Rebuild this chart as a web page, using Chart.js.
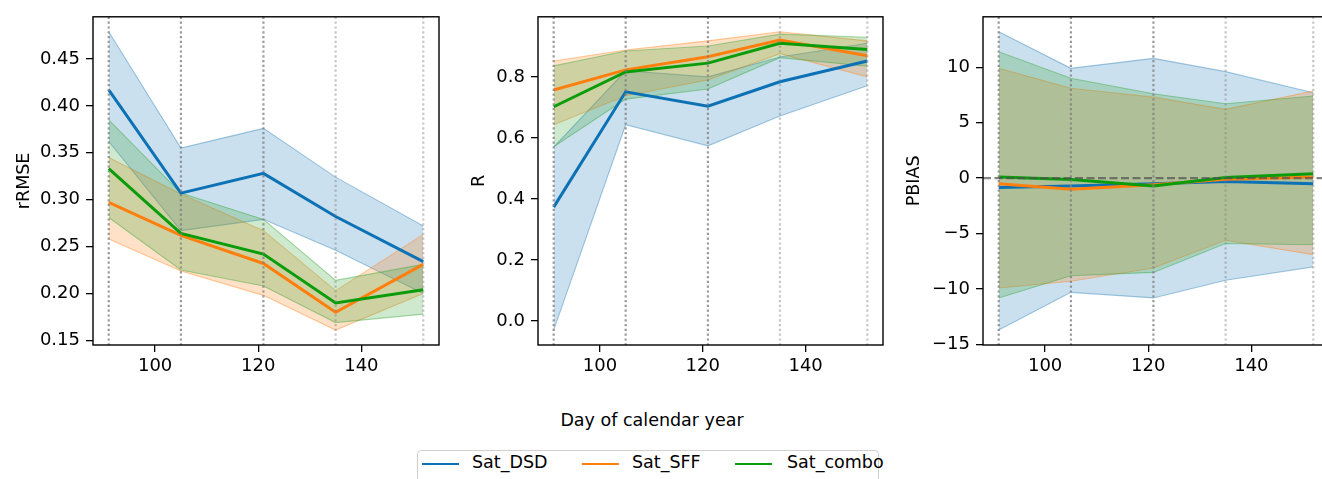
<!DOCTYPE html>
<html>
<head>
<meta charset="utf-8">
<script src="https://cdn.jsdelivr.net/npm/chart.js@4.4.0/dist/chart.umd.min.js"></script>
<style>
  html, body { margin: 0; padding: 0; background: #fff; }
  body { width: 1322px; height: 479px; overflow: hidden; position: relative; font-family: 'DejaVu Sans', sans-serif; }
  canvas { position: absolute; top: 0; }
  #xtitle { position: absolute; left: 452px; width: 400px; top: 410px; text-align: center; font-size: 17.5px; }
  #legend { position: absolute; left: 417px; top: 450px; width: 462px; height: 40px; border: 1px solid #cfcfcf; border-radius: 4px; box-sizing: border-box; }
  .sw { position: absolute; top: 12px; width: 37px; height: 0; border-top: 2.8px solid; }
  .lab { position: absolute; top: 1px; font-size: 17.5px; }
</style>
</head>
<body>
<canvas id="rmseChart" width="460" height="400" style="left:0px"></canvas>
<canvas id="rChart" width="450" height="400" style="left:450px"></canvas>
<canvas id="pbiasChart" width="440" height="400" style="left:900px"></canvas>
<div id="xtitle">Day of calendar year</div>
<div id="legend">
  <div class="sw" style="left:4px;border-color:#0c72b5"></div><div class="lab" style="left:54px">Sat_DSD</div>
  <div class="sw" style="left:164px;border-color:#ff7f0e"></div><div class="lab" style="left:214px">Sat_SFF</div>
  <div class="sw" style="left:317px;border-color:#0b9c0b"></div><div class="lab" style="left:369px">Sat_combo</div>
</div>
<script>
// Day of year for each evaluation date
const days = [91, 105, 121, 135, 152];
const xTicks = [100, 120, 140];

// rRMSE panel
const rmseDsd = [0.417, 0.307, 0.328, 0.282, 0.234];
const rmseDsdLow = [0.362, 0.267, 0.279, 0.246, 0.200];
const rmseDsdHigh = [0.479, 0.355, 0.376, 0.324, 0.272];
const rmseSff = [0.297, 0.262, 0.232, 0.180, 0.231];
const rmseSffLow = [0.258, 0.224, 0.198, 0.161, 0.200];
const rmseSffHigh = [0.345, 0.306, 0.267, 0.203, 0.263];
const rmseCombo = [0.333, 0.264, 0.242, 0.190, 0.204];
const rmseComboLow = [0.281, 0.225, 0.208, 0.169, 0.178];
const rmseComboHigh = [0.385, 0.307, 0.279, 0.214, 0.231];
const rmseTicks = [0.15, 0.20, 0.25, 0.30, 0.35, 0.40, 0.45];

// R panel
const rDsd = [0.373, 0.751, 0.704, 0.784, 0.852];
const rDsdLow = [-0.030, 0.643, 0.574, 0.672, 0.771];
const rDsdHigh = [0.570, 0.820, 0.800, 0.865, 0.910];
const rSff = [0.757, 0.823, 0.866, 0.921, 0.869];
const rSffLow = [0.643, 0.738, 0.790, 0.876, 0.800];
const rSffHigh = [0.852, 0.888, 0.918, 0.948, 0.918];
const rCombo = [0.702, 0.816, 0.845, 0.910, 0.890];
const rComboLow = [0.571, 0.727, 0.760, 0.863, 0.835];
const rComboHigh = [0.836, 0.885, 0.901, 0.940, 0.930];
const rTicks = [0.0, 0.2, 0.4, 0.6, 0.8];

// PBIAS panel
const pbDsd = [-0.85, -0.7, -0.5, -0.3, -0.5];
const pbDsdLow = [-13.7, -10.3, -10.8, -9.2, -8.0];
const pbDsdHigh = [13.2, 9.9, 10.8, 9.6, 7.7];
const pbSff = [-0.5, -1.0, -0.6, -0.1, 0.1];
const pbSffLow = [-9.9, -9.3, -8.1, -5.6, -6.9];
const pbSffHigh = [9.9, 8.1, 7.3, 6.2, 7.85];
const pbCombo = [0.1, -0.13, -0.7, 0.05, 0.4];
const pbComboLow = [-10.8, -8.8, -8.5, -5.9, -6.0];
const pbComboHigh = [11.4, 9.0, 7.6, 6.7, 7.4];
const pbiasTicks = [-15, -10, -5, 0, 5, 10];

const lineColors = ['#0c72b5', '#ff7f0e', '#0b9c0b'];
const bandRgb = ['31,119,180', '255,127,14', '44,160,44'];
const vlineAlpha = [0.8, 0.8, 0.8, 0.45, 0.45];

Chart.defaults.font.family = "'DejaVu Sans', sans-serif";
Chart.defaults.font.size = 18;
Chart.defaults.color = '#000';

const pts = (ys) => days.map((d, i) => ({ x: d, y: ys[i] }));

function buildDatasets(series) {
    const out = [];
    // bands: blue at bottom, green on top
    series.forEach((s, i) => {
        out.push({
            data: pts(s.high), fill: '+1', backgroundColor: 'rgba(' + bandRgb[i] + ',0.23)',
            borderColor: 'rgba(' + bandRgb[i] + ',0.4)', borderWidth: 1.1, pointRadius: 0, order: 10 - i
        });
        out.push({
            data: pts(s.low), fill: false,
            borderColor: 'rgba(' + bandRgb[i] + ',0.4)', borderWidth: 1.1, pointRadius: 0, order: 10 - i
        });
    });
    series.forEach((s, i) => {
        out.push({
            data: pts(s.mean), fill: false, borderColor: lineColors[i],
            borderWidth: 3, pointRadius: 0, order: 3 - i
        });
    });
    return out;
}

const panelDecor = {
    id: 'panelDecor',
    afterDatasetsDraw(chart) {
        const { ctx, chartArea: a, scales } = chart;
        ctx.save();
        ctx.lineWidth = 2.2;
        ctx.setLineDash([2.2, 2.6]);
        days.forEach((d, i) => {
            const px = scales.x.getPixelForValue(d);
            ctx.strokeStyle = 'rgba(128,128,128,' + vlineAlpha[i] + ')';
            ctx.beginPath();
            ctx.moveTo(px, a.top);
            ctx.lineTo(px, a.bottom);
            ctx.stroke();
        });
        if (chart.options.plugins.panelDecor.zeroLine) {
            const py = scales.y.getPixelForValue(0);
            ctx.strokeStyle = 'rgba(80,80,80,0.7)';
            ctx.lineWidth = 2.3;
            ctx.setLineDash([8, 3.5]);
            ctx.beginPath();
            ctx.moveTo(a.left, py);
            ctx.lineTo(a.right, py);
            ctx.stroke();
        }
        ctx.restore();
    },
    afterDraw(chart) {
        const { ctx, chartArea: a } = chart;
        ctx.save();
        ctx.strokeStyle = '#000';
        ctx.lineWidth = 1.4;
        ctx.strokeRect(a.left, a.top, a.right - a.left, a.bottom - a.top);
        ctx.restore();
    }
};

function makePanel(id, cfg) {
    const all = [].concat(...cfg.series.map(s => s.low.concat(s.high, s.mean)));
    const lo = Math.min(...all), hi = Math.max(...all);
    const m = (hi - lo) * 0.05;
    const xm = (days[days.length - 1] - days[0]) * 0.05;
    new Chart(document.getElementById(id).getContext('2d'), {
        type: 'line',
        data: { datasets: buildDatasets(cfg.series) },
        options: {
            responsive: false,
            animation: false,
            devicePixelRatio: 1,
            layout: { padding: { left: 0, top: 15, right: cfg.padRight, bottom: 0 } },
            plugins: {
                legend: { display: false },
                tooltip: { enabled: false },
                panelDecor: { zeroLine: cfg.zeroLine }
            },
            scales: {
                x: {
                    type: 'linear',
                    min: days[0] - xm,
                    max: days[days.length - 1] + xm,
                    afterBuildTicks: (s) => { s.ticks = xTicks.map(v => ({ value: v })); },
                    afterFit: (s) => { s.height = 55; },
                    ticks: { padding: 4, color: '#000', callback: (v) => String(v) },
                    grid: { drawOnChartArea: false, drawTicks: true, tickLength: 7, color: '#000', lineWidth: 1.3 },
                    border: { display: false }
                },
                y: {
                    type: 'linear',
                    min: lo - m,
                    max: hi + m,
                    afterBuildTicks: (s) => { s.ticks = cfg.ticks.map(v => ({ value: v })); },
                    afterFit: (s) => { s.width = cfg.yWidth; },
                    ticks: { padding: 6, color: '#000', callback: cfg.fmt },
                    grid: { drawOnChartArea: false, drawTicks: true, tickLength: 7, color: '#000', lineWidth: 1.3 },
                    border: { display: false },
                    title: { display: true, text: cfg.title, color: '#000', font: { size: 17.5 }, padding: { top: cfg.titlePad, bottom: 0 } }
                }
            }
        },
        plugins: [panelDecor]
    });
}

makePanel('rmseChart', {
    series: [
        { mean: rmseDsd, low: rmseDsdLow, high: rmseDsdHigh },
        { mean: rmseSff, low: rmseSffLow, high: rmseSffHigh },
        { mean: rmseCombo, low: rmseComboLow, high: rmseComboHigh }
    ],
    ticks: rmseTicks, fmt: (v) => v.toFixed(2), title: 'rRMSE',
    yWidth: 93, padRight: 21, titlePad: 13.5, zeroLine: false
});

makePanel('rChart', {
    series: [
        { mean: rDsd, low: rDsdLow, high: rDsdHigh },
        { mean: rSff, low: rSffLow, high: rSffHigh },
        { mean: rCombo, low: rComboLow, high: rComboHigh }
    ],
    ticks: rTicks, fmt: (v) => v.toFixed(1), title: 'R',
    yWidth: 88, padRight: 17, titlePad: 18.5, zeroLine: false
});

makePanel('pbiasChart', {
    series: [
        { mean: pbDsd, low: pbDsdLow, high: pbDsdHigh },
        { mean: pbSff, low: pbSffLow, high: pbSffHigh },
        { mean: pbCombo, low: pbComboLow, high: pbComboHigh }
    ],
    ticks: pbiasTicks, fmt: (v) => (v < 0 ? '\u2212' + Math.abs(v) : String(v)), title: 'PBIAS',
    yWidth: 83, padRight: 11, titlePad: 3.5, zeroLine: true
});
</script>
</body>
</html>
